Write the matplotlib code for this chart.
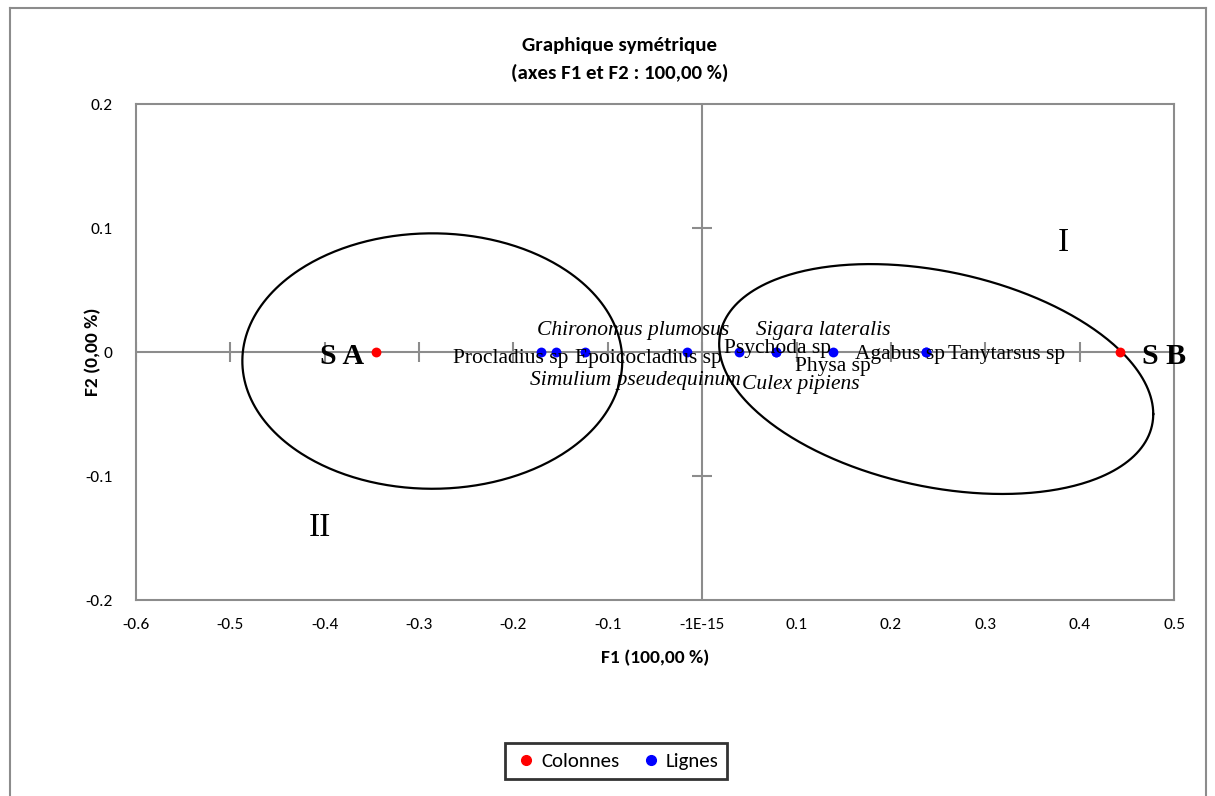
import matplotlib
matplotlib.use("Agg")
import matplotlib.pyplot as plt
import numpy as np
from matplotlib import font_manager
from matplotlib.lines import Line2D

# --- data ---
site_names = ["S A", "S B"]
site_f1 = [-0.3455, 0.443]
site_f2 = [0.0, 0.0]

species_names = [
    "Procladius sp", "Chironomus plumosus", "Epoicocladius sp", "Simulium pseudequinum",
    "Psychoda sp", "Sigara lateralis", "Culex pipiens", "Physa sp", "Agabus sp", "Tanytarsus sp",
]
species_f1 = [-0.1706, -0.1547, -0.124, -0.0159, 0.0392, 0.0784, 0.0784, 0.1388, 0.2374, 0.2374]
species_f2 = [0.0] * len(species_f1)
species_italic = [False, True, False, True, False, True, True, False, False, False]
# label offsets in pixels (dx, dy) relative to the point
species_offsets = [(-31, -6), (77, 22), (63, -6), (-52, -29), (38, 3),
                   (47, 22), (25, -32), (0, -15), (-26, -2), (80, -2)]
site_offsets = [(-34, -4), (44, -4)]

x_ticks = [-0.6, -0.5, -0.4, -0.3, -0.2, -0.1, 0.0, 0.1, 0.2, 0.3, 0.4, 0.5]
x_tick_labels = ["-0.6", "-0.5", "-0.4", "-0.3", "-0.2", "-0.1", "-1E-15", "0.1", "0.2", "0.3", "0.4", "0.5"]
y_ticks = [-0.2, -0.1, 0.0, 0.1, 0.2]
y_tick_labels = ["-0.2", "-0.1", "0", "0.1", "0.2"]

# groups drawn as ellipses: center, half-width in x, coupling dy, half-height term k
group_ellipses = [
    {"cx": -0.286, "cy": -0.0073, "hx": 0.2013, "dy": 0.0, "k": 0.103},
    {"cx": 0.248, "cy": -0.0218, "hx": 0.230, "dy": -0.0282, "k": 0.0883},
]
group_labels = [("I", 0.383, 0.088), ("II", -0.405, -0.142)]

installed = {f.name for f in font_manager.fontManager.ttflist}
ui_font = [f for f in ["Carlito", "Liberation Sans Narrow", "Lato", "DejaVu Sans"] if f in installed]
serif_font = ["Liberation Serif", "DejaVu Serif"]
grey = "#8c8c8c"

fig = plt.figure(figsize=(12.15, 7.96), dpi=100)
ax = fig.add_axes([136 / 1215, 1 - 600 / 796, 1038 / 1215, 496 / 796])

ax.set_xlim(-0.6, 0.5)
ax.set_ylim(-0.2, 0.2)

for spine in ax.spines.values():
    spine.set_color(grey)
    spine.set_linewidth(1.5)

ax.set_xticks(x_ticks)
ax.set_xticklabels(x_tick_labels, fontfamily=ui_font, fontsize=12.5)
ax.set_yticks(y_ticks)
ax.set_yticklabels(y_tick_labels, fontfamily=ui_font, fontsize=12.5)
ax.tick_params(axis="x", length=0, pad=13)
ax.tick_params(axis="y", length=0, pad=17)

# axis lines through the origin with crossing tick marks
ax.axhline(0, color=grey, lw=1.5, zorder=1)
ax.axvline(0, color=grey, lw=1.5, zorder=1)
ax.plot(x_ticks, [0] * len(x_ticks), ls="none", marker="|", ms=15, mew=1.5, color=grey, zorder=1)
ax.plot([0, 0], [-0.1, 0.1], ls="none", marker="_", ms=15, mew=1.5, color=grey, zorder=1)

# ellipses
t = np.linspace(0, 2 * np.pi, 400)
for e in group_ellipses:
    ex = e["cx"] + e["hx"] * np.cos(t)
    ey = e["cy"] + e["dy"] * np.cos(t) + e["k"] * np.sin(t)
    ax.plot(ex, ey, color="black", lw=1.6, zorder=2)

for text, gx, gy in group_labels:
    ax.text(gx, gy, text, fontfamily=serif_font, fontsize=24, ha="center", va="center")

# points
ax.scatter(site_f1, site_f2, s=50, color="#ff0000", zorder=4, linewidths=0)
ax.scatter(species_f1, species_f2, s=50, color="#0000ff", zorder=4, linewidths=0)

for name, x, y, (dx, dy) in zip(site_names, site_f1, site_f2, site_offsets):
    ax.annotate(name, (x, y), xytext=(dx, dy), textcoords="offset pixels",
                ha="center", va="center", fontfamily=serif_font, fontsize=21.5,
                fontweight="bold", zorder=5)

for name, x, y, (dx, dy), it in zip(species_names, species_f1, species_f2,
                                     species_offsets, species_italic):
    ax.annotate(name, (x, y), xytext=(dx, dy), textcoords="offset pixels",
                ha="center", va="center", fontfamily=serif_font, fontsize=15.5,
                fontstyle="italic" if it else "normal", zorder=5)

ax.set_xlabel("F1 (100,00 %)", fontfamily=ui_font, fontsize=14, fontweight="bold")
ax.set_ylabel("F2 (0,00 %)", fontfamily=ui_font, fontsize=14, fontweight="bold")
ax.xaxis.set_label_coords(0.5, (600 - 658) / 496)
ax.yaxis.set_label_coords((93 - 136) / 1038, 0.5)
ax.yaxis.label.set_verticalalignment("center")
ax.xaxis.label.set_verticalalignment("center")

fig.text(620 / 1215, 1 - 45 / 796, "Graphique symétrique", ha="center", va="center",
         fontfamily=ui_font, fontsize=15, fontweight="bold")
fig.text(620 / 1215, 1 - 73 / 796, "(axes F1 et F2 : 100,00 %)", ha="center", va="center",
         fontfamily=ui_font, fontsize=15, fontweight="bold")

handles = [
    Line2D([0], [0], marker="o", ls="none", color="#ff0000", ms=7, label="Colonnes"),
    Line2D([0], [0], marker="o", ls="none", color="#0000ff", ms=7, label="Lignes"),
]
leg = fig.legend(handles=handles, loc="center", bbox_to_anchor=(616 / 1215, 1 - 761 / 796),
                 ncol=2, frameon=True, fancybox=False, handletextpad=0.1, columnspacing=0.9,
                 handlelength=1.2, prop={"family": ui_font, "size": 15}, borderpad=0.45)
leg.get_frame().set_edgecolor("black")
leg.get_frame().set_linewidth(2)

# outer chart frame (left, top, right)
for xs, ys in [([10, 10], [0, 796 - 8]), ([10, 1206], [796 - 8, 796 - 8]), ([1206, 1206], [0, 796 - 8])]:
    fig.add_artist(Line2D([v / 1215 for v in xs], [v / 796 for v in ys], color=grey, lw=1.5))

fig.savefig("out.png", dpi=100)
